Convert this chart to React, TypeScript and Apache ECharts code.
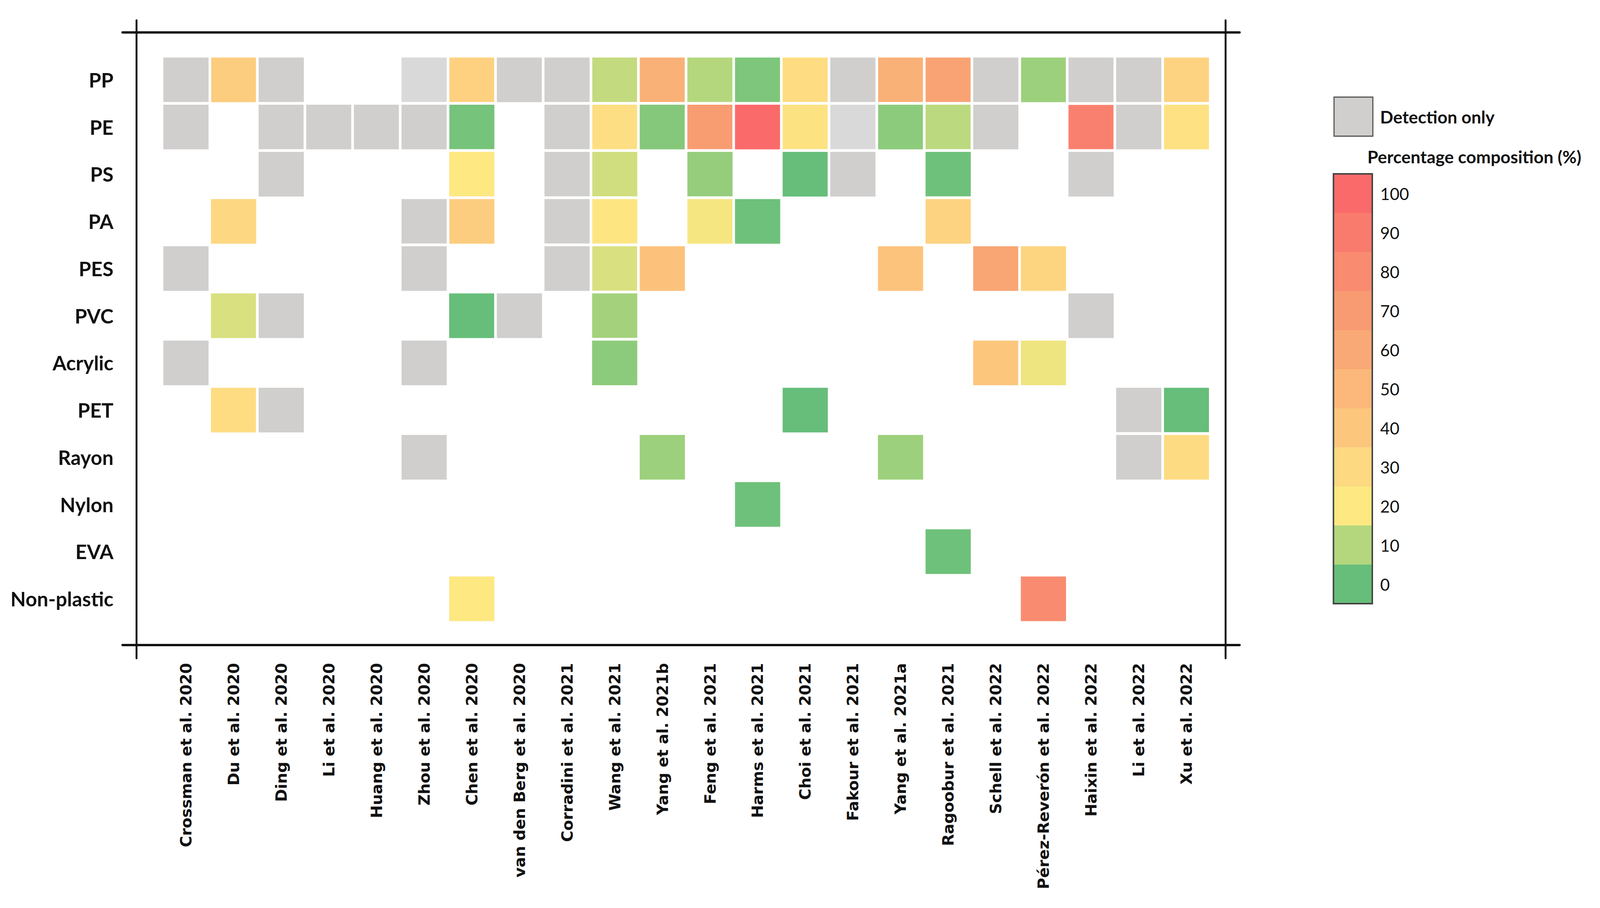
import React, { useEffect, useRef } from "react";
import * as echarts from "echarts";

// ---------- data ----------
const studies = [
  "Crossman et al. 2020",
  "Du et al. 2020",
  "Ding et al. 2020",
  "Li et al. 2020",
  "Huang et al. 2020",
  "Zhou et al. 2020",
  "Chen et al. 2020",
  "van den Berg et al. 2020",
  "Corradini et al. 2021",
  "Wang et al. 2021",
  "Yang et al. 2021b",
  "Feng et al. 2021",
  "Harms et al. 2021",
  "Choi et al. 2021",
  "Fakour et al. 2021",
  "Yang et al. 2021a",
  "Ragoobur et al. 2021",
  "Schell et al. 2022",
  "Pérez-Reverón et al. 2022",
  "Haixin et al. 2022",
  "Li et al. 2022",
  "Xu et al. 2022",
];

const polymers = ["PP", "PE", "PS", "PA", "PES", "PVC", "Acrylic", "PET", "Rayon", "Nylon", "EVA", "Non-plastic"];

// "D" = detection only, "L" = detection only (lighter shade), null = not reported, number = % composition
const D = "D";
const L = "L";
const _ = null;

const rowPP = [D, 37, D, _, _, L, 34, D, D, 12, 55, 10, 3, 28, D, 55, 64, D, 7, D, D, 33];
const rowPE = [D, _, D, D, D, D, 2, _, D, 27, 4, 69, 100, 24, L, 5, 11, D, _, 87, D, 25];
const rowPS = [_, _, D, _, _, _, 20, _, D, 14, _, 6, _, 0, D, _, 1, _, _, D, _, _];
const rowPA = [_, 31, _, _, _, D, 37, _, D, 22, _, 19, 1, _, _, _, 33, _, _, _, _, _];
const rowPES = [D, _, _, _, _, D, _, _, D, 15, 43, _, _, _, _, 42, _, 63, 32, _, _, _];
const rowPVC = [_, 15, D, _, _, _, 0, D, _, 8, _, _, _, _, _, _, _, _, _, D, _, _];
const rowAcrylic = [D, _, _, _, _, D, _, _, _, 5, _, _, _, _, _, _, _, 40, 18, _, _, _];
const rowPET = [_, 28, D, _, _, _, _, _, _, _, _, _, _, 0, _, _, _, _, _, _, D, 0];
const rowRayon = [_, _, _, _, _, D, _, _, _, _, 7, _, _, _, _, 7, _, _, _, _, D, 29];
const rowNylon = [_, _, _, _, _, _, _, _, _, _, _, _, 1, _, _, _, _, _, _, _, _, _];
const rowEVA = [_, _, _, _, _, _, _, _, _, _, _, _, _, _, _, _, 1, _, _, _, _, _];
const rowNonPlastic = [_, _, _, _, _, _, 20, _, _, _, _, _, _, _, _, _, _, _, 80, _, _, _];

const rows = [rowPP, rowPE, rowPS, rowPA, rowPES, rowPVC, rowAcrylic, rowPET, rowRayon, rowNylon, rowEVA, rowNonPlastic];

const scaleTicks = [0, 10, 20, 30, 40, 50, 60, 70, 80, 90, 100];
const scaleColors = [
  "#66be7a",
  "#b4d77d",
  "#fde882",
  "#fdd982",
  "#fcc67d",
  "#fbb87a",
  "#f9a975",
  "#f89b72",
  "#f88b70",
  "#f97b6e",
  "#fb6a6a",
];

const GRAY = "#d0cfce";
const GRAY_LIGHT = "#d9d9d9";

// ---------- component ----------
export default function App() {
  const ref = useRef<HTMLDivElement>(null);

  useEffect(() => {
    document.body.style.margin = "0";
    const el = ref.current;
    if (!el) return;
    const chart = echarts.init(el, null, { renderer: "svg" });

    // layout designed on a 4244 x 2324 canvas, scaled to the real viewport
    const RW = 4244;
    const RH = 2324;
    const W = el.clientWidth || RW;
    const H = el.clientHeight || RH;
    const sx = W / RW;
    const sy = H / RH;
    const X = (v: number) => v * sx;
    const Y = (v: number) => v * sy;
    const F = (v: number) => v * Math.min(sx, sy);

    const valueData: any[] = [];
    const detData: any[] = [];
    rows.forEach((row, yi) =>
      row.forEach((v, xi) => {
        if (v === null) return;
        if (v === D) detData.push([xi, yi, 1]);
        else if (v === L) detData.push([xi, yi, 2]);
        else valueData.push([xi, yi, v]);
      })
    );

    const tickStyle = { color: "#111", width: F(3.5) };
    const cellStyle = { borderColor: "#ffffff", borderWidth: F(7) };
    const frameH = { color: "#111", width: F(6) };
    const frameV = { color: "#111", width: F(5) };

    const option: any = {
      animation: false,
      backgroundColor: "#ffffff",
      title: {
        text: "Percentage composition (%)",
        left: X(3627),
        top: Y(378),
        padding: 0,
        textStyle: { fontFamily: "Lato", fontWeight: "bold", fontSize: F(46), color: "#111" },
      },
      legend: {
        data: ["Detection only"],
        left: X(3537),
        top: Y(247),
        padding: 0,
        icon: "rect",
        itemWidth: X(103),
        itemHeight: Y(100),
        selectedMode: false,
        itemStyle: { color: GRAY, borderColor: "#555", borderWidth: F(3) },
        textStyle: {
          fontFamily: "Lato",
          fontWeight: "bold",
          fontSize: F(46),
          color: "#111",
          padding: [0, 0, Y(26), X(14)],
        },
      },
      grid: [
        { left: X(430), right: X(RW - 3210), top: Y(144), bottom: Y(RH - 1593) },
        { left: X(325), right: X(RW - 3288), top: Y(83), bottom: Y(RH - 1651) },
        { left: X(362), right: X(RW - 3251), top: Y(52), bottom: Y(RH - 1685) },
      ],
      xAxis: [
        {
          gridIndex: 0,
          type: "category",
          data: studies,
          position: "bottom",
          offset: Y(58),
          axisLine: { show: false },
          axisTick: { alignWithLabel: true, length: Y(22), lineStyle: tickStyle },
          axisLabel: {
            interval: 0,
            rotate: 90,
            margin: Y(46),
            fontFamily: "DejaVu Sans",
            fontWeight: "bold",
            fontSize: F(41),
            color: "#111",
          },
          splitLine: { show: false },
        },
        {
          gridIndex: 0,
          type: "category",
          data: studies,
          position: "top",
          offset: Y(61),
          axisLine: { show: false },
          axisTick: { alignWithLabel: true, length: Y(22), lineStyle: tickStyle },
          axisLabel: { show: false },
          splitLine: { show: false },
        },
        {
          gridIndex: 1,
          type: "value",
          min: 0,
          max: 1,
          position: "bottom",
          axisLine: { show: true, onZero: false, lineStyle: frameH },
          axisTick: { show: false },
          axisLabel: { show: false },
          splitLine: { show: false },
        },
        {
          gridIndex: 1,
          type: "value",
          min: 0,
          max: 1,
          position: "top",
          axisLine: { show: true, onZero: false, lineStyle: frameH },
          axisTick: { show: false },
          axisLabel: { show: false },
          splitLine: { show: false },
        },
        { gridIndex: 2, type: "value", min: 0, max: 1, show: false },
      ],
      yAxis: [
        {
          gridIndex: 0,
          type: "category",
          data: polymers,
          inverse: true,
          position: "left",
          offset: X(68),
          axisLine: { show: false },
          axisTick: { alignWithLabel: true, length: X(24), lineStyle: tickStyle },
          axisLabel: {
            interval: 0,
            margin: X(61),
            fontFamily: "Lato",
            fontWeight: "bold",
            fontSize: F(53),
            color: "#111",
          },
          splitLine: { show: false },
        },
        {
          gridIndex: 0,
          type: "category",
          data: polymers,
          inverse: true,
          position: "right",
          offset: X(41),
          axisLine: { show: false },
          axisTick: { alignWithLabel: true, length: X(25), lineStyle: tickStyle },
          axisLabel: { show: false },
          splitLine: { show: false },
        },
        { gridIndex: 1, type: "value", min: 0, max: 1, show: false },
        {
          gridIndex: 2,
          type: "value",
          min: 0,
          max: 1,
          position: "left",
          axisLine: { show: true, onZero: false, lineStyle: frameV },
          axisTick: { show: false },
          axisLabel: { show: false },
          splitLine: { show: false },
        },
        {
          gridIndex: 2,
          type: "value",
          min: 0,
          max: 1,
          position: "right",
          axisLine: { show: true, onZero: false, lineStyle: frameV },
          axisTick: { show: false },
          axisLabel: { show: false },
          splitLine: { show: false },
        },
      ],
      visualMap: [
        {
          type: "continuous",
          show: false,
          seriesIndex: 0,
          min: 0,
          max: 100,
          inRange: { color: scaleColors },
        },
        {
          type: "piecewise",
          show: false,
          seriesIndex: 1,
          pieces: [
            { value: 1, color: GRAY },
            { value: 2, color: GRAY_LIGHT },
          ],
        },
        {
          type: "piecewise",
          seriesIndex: 2,
          orient: "vertical",
          left: X(3537),
          top: Y(445),
          padding: 0,
          itemWidth: X(103),
          itemHeight: Y(100),
          itemGap: 0,
          itemSymbol: "rect",
          align: "left",
          textGap: X(21),
          selectedMode: false,
          pieces: scaleTicks.map((t, i) => ({
            gte: t - 5,
            lt: t + 5,
            label: String(t),
            color: scaleColors[i],
          })),
          textStyle: { fontFamily: "Lato", fontSize: F(44), color: "#111" },
        },
      ],
      graphic: [
        {
          type: "rect",
          z: 100,
          shape: { x: X(3537), y: Y(445), width: X(103), height: Y(1100) },
          style: { fill: "none", stroke: "#444", lineWidth: F(4) },
        },
      ],
      series: [
        {
          type: "heatmap",
          name: "Percentage composition (%)",
          xAxisIndex: 0,
          yAxisIndex: 0,
          data: valueData,
          itemStyle: cellStyle,
          emphasis: { disabled: true },
        },
        {
          type: "heatmap",
          name: "Detection only",
          xAxisIndex: 0,
          yAxisIndex: 0,
          data: detData,
          itemStyle: { color: GRAY, ...cellStyle },
          emphasis: { disabled: true },
        },
        {
          type: "heatmap",
          name: "scale",
          xAxisIndex: 0,
          yAxisIndex: 0,
          data: [],
        },
      ],
    };

    chart.setOption(option);
    return () => chart.dispose();
  }, []);

  return (
    <div
      ref={ref}
      style={{ position: "fixed", left: 0, top: 0, width: "100vw", height: "100vh", background: "#fff" }}
    />
  );
}
